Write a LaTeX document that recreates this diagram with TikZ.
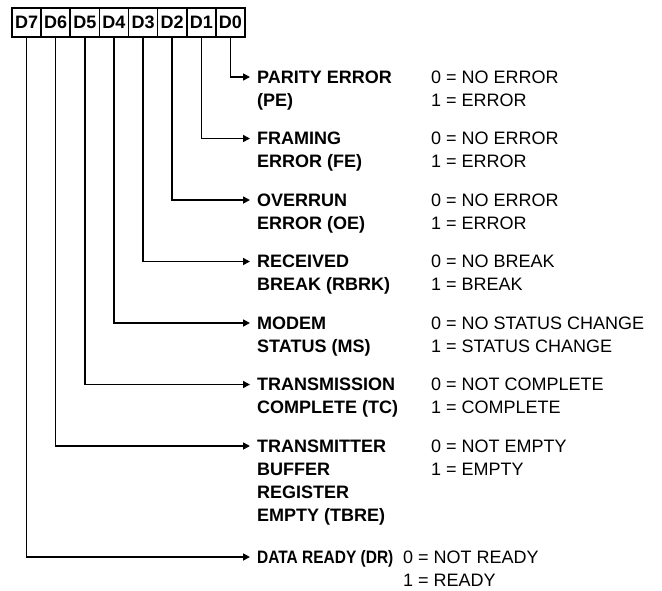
\documentclass[tikz,border=0pt]{standalone}
\usepackage{fontspec}
\setmainfont{Liberation Sans}
\usetikzlibrary{arrows.meta}
\begin{document}
\begin{tikzpicture}[x=1pt,y=-1pt,
  lbl/.style={font=\fontsize{18}{22}\selectfont\bfseries, anchor=west, inner sep=0pt, text height=12.9pt, text depth=0pt},
  val/.style={font=\fontsize{18}{22}\selectfont, anchor=west, inner sep=0pt, text height=12.9pt, text depth=0pt},
  cell/.style={draw, line width=1.6pt, minimum width=29.125pt, minimum height=29pt, inner sep=0pt, font=\fontsize{18}{22}\selectfont\bfseries},
  arr/.style={line width=1.6pt, -{Triangle[length=7pt,width=7pt]}, shorten >=7pt}
]
\useasboundingbox (0,0) rectangle (662,590);
% register cells
\foreach \k/\n in {0/7,1/6,2/5,3/4,4/3,5/2,6/1,7/0}{
  \node[cell] (d\n) at ({26.5625+29.125*\k},22.5) {D\n};
}
% labels and values
\def\lx{257}
\def\vx{431}
\node[lbl] (l0a) at (\lx,77) {PARITY ERROR};
\node[lbl] (l0b) at (\lx,100) {(PE)};
\node[val] (v0a) at (\vx,77) {0 = NO ERROR};
\node[val] (v0b) at (\vx,100) {1 = ERROR};

\node[lbl] (l1a) at (\lx,138.5) {FRAMING};
\node[lbl] (l1b) at (\lx,161.5) {ERROR (FE)};
\node[val] (v1a) at (\vx,138.5) {0 = NO ERROR};
\node[val] (v1b) at (\vx,161.5) {1 = ERROR};

\node[lbl] (l2a) at (\lx,200) {OVERRUN};
\node[lbl] (l2b) at (\lx,223) {ERROR (OE)};
\node[val] (v2a) at (\vx,200) {0 = NO ERROR};
\node[val] (v2b) at (\vx,223) {1 = ERROR};

\node[lbl] (l3a) at (\lx,261.5) {RECEIVED};
\node[lbl] (l3b) at (\lx,284.5) {BREAK (RBRK)};
\node[val] (v3a) at (\vx,261.5) {0 = NO BREAK};
\node[val] (v3b) at (\vx,284.5) {1 = BREAK};

\node[lbl] (l4a) at (\lx,323) {MODEM};
\node[lbl] (l4b) at (\lx,346) {STATUS (MS)};
\node[val] (v4a) at (\vx,323) {0 = NO STATUS CHANGE};
\node[val] (v4b) at (\vx,346) {1 = STATUS CHANGE};

\node[lbl] (l5a) at (\lx,384.5) {TRANSMISSION};
\node[lbl] (l5b) at (\lx,407.5) {COMPLETE (TC)};
\node[val] (v5a) at (\vx,384.5) {0 = NOT COMPLETE};
\node[val] (v5b) at (\vx,407.5) {1 = COMPLETE};

\node[lbl] (l6a) at (\lx,446) {TRANSMITTER};
\node[lbl] (l6b) at (\lx,469) {BUFFER};
\node[lbl] (l6c) at (\lx,492) {REGISTER};
\node[lbl] (l6d) at (\lx,515) {EMPTY (TBRE)};
\node[val] (v6a) at (\vx,446) {0 = NOT EMPTY};
\node[val] (v6b) at (\vx,469) {1 = EMPTY};

\node[lbl] (l7a) at (\lx,557) {\scalebox{0.86}[1]{DATA READY (DR)}};
\node[val] (v7a) at (403,557) {0 = NOT READY};
\node[val] (v7b) at (403,580) {1 = READY};
% connectors
\foreach \n in {0,...,7}{
  \draw[arr] (d\n.south) |- (l\n a.west);
}
\end{tikzpicture}
\end{document}
